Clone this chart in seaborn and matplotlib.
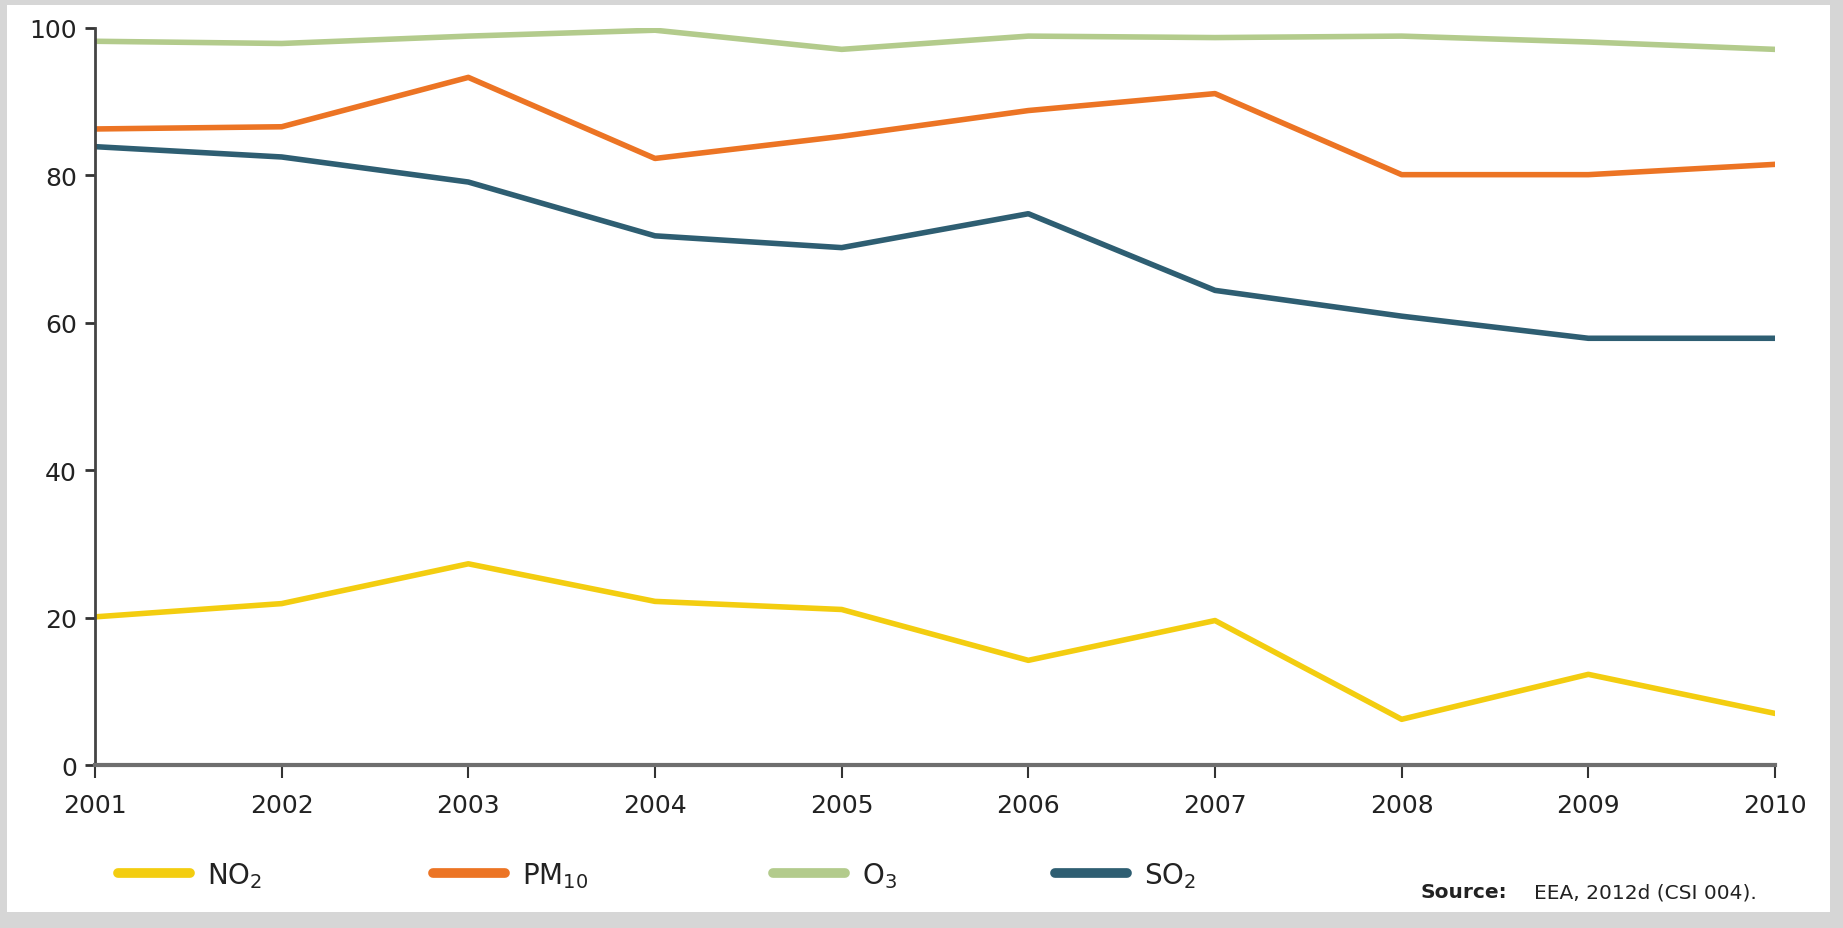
import matplotlib
matplotlib.use("Agg")
import matplotlib.pyplot as plt
import matplotlib.patches as mpatches
import seaborn as sns
import pandas as pd

years = [2001, 2002, 2003, 2004, 2005, 2006, 2007, 2008, 2009, 2010]
no2 = [20.1, 21.9, 27.3, 22.2, 21.1, 14.2, 19.6, 6.2, 12.3, 7.0]
pm10 = [86.3, 86.6, 93.3, 82.3, 85.3, 88.8, 91.1, 80.1, 80.1, 81.5]
o3 = [98.2, 97.9, 98.9, 99.7, 97.1, 98.9, 98.7, 98.9, 98.1, 97.1]
so2 = [83.9, 82.5, 79.1, 71.8, 70.2, 74.8, 64.4, 60.9, 57.9, 57.9]
series_names = ["NO2", "PM10", "O3", "SO2"]
legend_labels = ["NO$_2$", "PM$_{10}$", "O$_3$", "SO$_2$"]
y_ticks = [0, 20, 40, 60, 80, 100]

colors = {"NO2": "#f3cd10", "PM10": "#ec7424", "O3": "#b3cb8c", "SO2": "#2e5e72"}

df = pd.DataFrame({
    "year": years * 4,
    "value": no2 + pm10 + o3 + so2,
    "series": sum([[s] * len(years) for s in series_names], []),
})

sns.set_theme(style="white")
plt.rcParams["font.family"] = ["DejaVu Sans"]

fig = plt.figure(figsize=(18.43, 9.29), dpi=100)
fig.patch.set_facecolor("#d6d6d6")
fig.add_artist(mpatches.Rectangle((7 / 1843, 1 - 913 / 929), (1830 - 7) / 1843, (913 - 6) / 929,
                                  transform=fig.transFigure, facecolor="white", edgecolor="none", zorder=-10))

ax = fig.add_axes([95 / 1843, 1 - 766 / 929, (1775 - 95) / 1843, (766 - 29) / 929])
ax.set_facecolor("none")

sns.lineplot(data=df, x="year", y="value", hue="series", palette=colors,
             hue_order=series_names, linewidth=4.0, ax=ax, legend=False)

ax.set_xlim(2001, 2010)
ax.set_ylim(0, 100)
ax.set_xticks(years)
ax.set_yticks(y_ticks)
ax.set_xlabel("")
ax.set_ylabel("")
for s in ["top", "right"]:
    ax.spines[s].set_visible(False)
ax.spines["left"].set_color("#444444")
ax.spines["left"].set_linewidth(2)
ax.spines["bottom"].set_color("#6e6e6e")
ax.spines["bottom"].set_linewidth(3)
ax.tick_params(axis="both", which="both", direction="out", colors="#333333",
               labelcolor="#222222", labelsize=18, bottom=True, left=True)
ax.tick_params(axis="y", length=7, width=2, pad=6)
ax.tick_params(axis="x", length=9, width=1.5, pad=11)
ax.grid(False)

legend_x = [118, 433, 773, 1055]
for name, lab, lx in zip(series_names, legend_labels, legend_x):
    h = plt.Line2D([0], [0], color=colors[name], lw=7, solid_capstyle="round")
    fig.legend([h], [lab], loc="center left", bbox_to_anchor=(lx / 1843, 1 - 876 / 929),
               frameon=False, fontsize=20, handlelength=2.6, handletextpad=0.6,
               borderpad=0, borderaxespad=0, labelcolor="#222222")

fig.text(1420 / 1843, 1 - 893 / 929, "Source:", fontsize=14.5, fontweight="bold",
         color="#222222", va="center", ha="left")
fig.text(1534 / 1843, 1 - 893 / 929, "EEA, 2012d (CSI 004).", fontsize=14.5,
         color="#222222", va="center", ha="left")

fig.savefig("out.png", dpi=100, facecolor=fig.get_facecolor())
